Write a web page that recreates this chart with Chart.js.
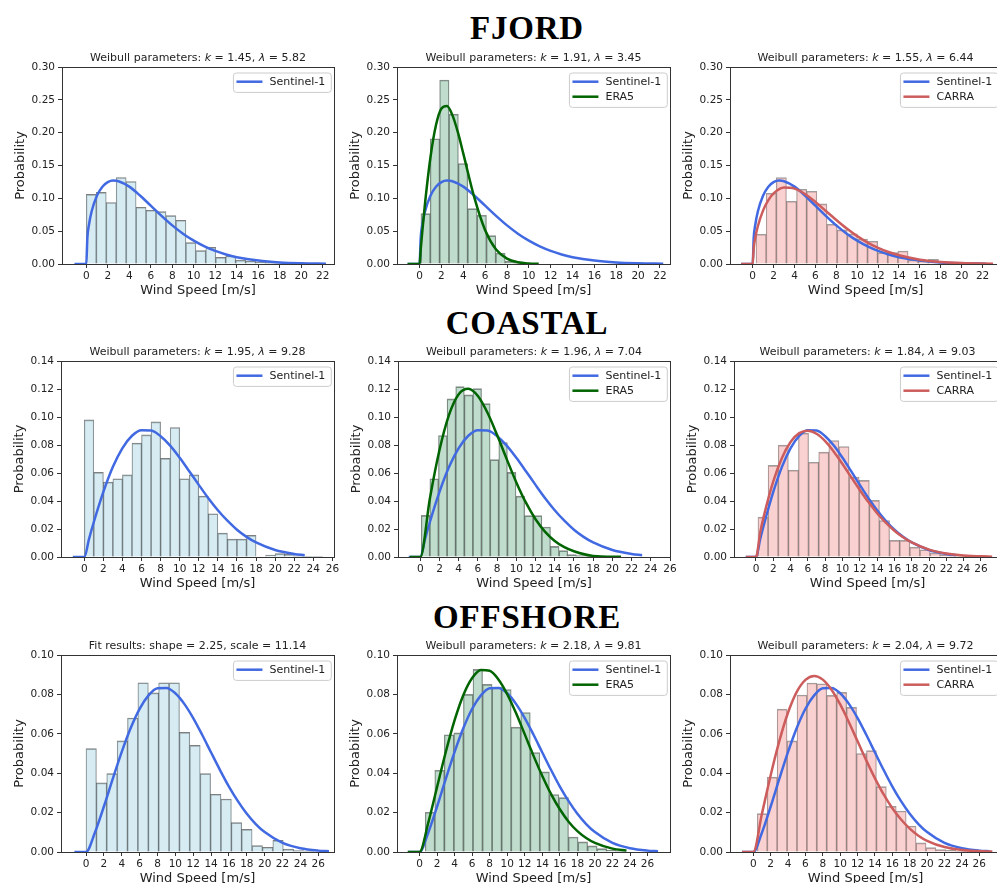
<!DOCTYPE html>
<html>
<head>
<meta charset="utf-8">
<script src="https://cdn.jsdelivr.net/npm/chart.js@4.4.0/dist/chart.umd.min.js"></script>
<style>
  html, body { margin: 0; padding: 0; background: #fff; overflow: hidden; }
  body { width: 997px; height: 883px; position: relative; }
  .region {
    position: absolute; left: 0; width: 1054px; text-align: center;
    font-family: "Liberation Serif", serif; font-weight: bold; font-size: 33px;
    letter-spacing: 0.8px; line-height: 32px; color: #000;
  }
  canvas { position: absolute; }
</style>
</head>
<body>
<div class="region" style="top:12px">FJORD</div>
<div class="region" style="top:307px">COASTAL</div>
<div class="region" style="top:601px">OFFSHORE</div>

<script>
// ----------------- Tick labels -----------------
const yTicksFjord = [0.00, 0.05, 0.10, 0.15, 0.20, 0.25, 0.30];
const yTicksCoastal = [0.00, 0.02, 0.04, 0.06, 0.08, 0.10, 0.12, 0.14];
const yTicksOffshore = [0.00, 0.02, 0.04, 0.06, 0.08, 0.10];
const xTicksFjord = [0, 2, 4, 6, 8, 10, 12, 14, 16, 18, 20, 22];
const xTicksLong = [0, 2, 4, 6, 8, 10, 12, 14, 16, 18, 20, 22, 24, 26];

// ----------------- Histograms (first bin edge, bin width) + densities -----------------
const fjordS1Bins = [0, 0.927];
const fjordS1Hist = [0.106, 0.109, 0.0936, 0.1317, 0.1256, 0.0864, 0.0819, 0.0798, 0.0737, 0.0666, 0.0325, 0.0203,
  0.0254, 0.0102, 0.0122, 0.006, 0.0046, 0.003, 0.002, 0.0015, 0.001, 0.0008, 0.0005, 0.0005];
const fjordEra5Bins = [0.12, 0.857];
const fjordEra5Hist = [0.0768, 0.1907, 0.2802, 0.2283, 0.1531, 0.0844, 0.0742, 0.0432, 0.0168, 0.004, 0.0015, 0.0005];
const fjordCarraBins = [0.32, 0.97];
const fjordCarraHist = [0.0453, 0.1078, 0.1317, 0.0956, 0.1139, 0.1108, 0.0915, 0.0605, 0.0519, 0.0458, 0.0381, 0.0346,
  0.0173, 0.0173, 0.0198, 0.0061, 0.0046, 0.0071, 0.002, 0.0012, 0.0008, 0.0005, 0.0004];

const coastalS1Bins = [0, 1.0];
const coastalS1Hist = [0.0979, 0.0604, 0.0535, 0.0559, 0.0587, 0.0813, 0.0872, 0.0965, 0.0704, 0.0925, 0.0559, 0.0587,
  0.0435, 0.0309, 0.0171, 0.0128, 0.0128, 0.0155, 0, 0.0014, 0.0024, 0.0019, 0.0008, 0.0005, 0.0004];
const coastalEra5Bins = [0.1, 0.897];
const coastalEra5Hist = [0.0297, 0.0559, 0.0868, 0.1129, 0.1217, 0.1158, 0.1203, 0.1096, 0.0696, 0.0818, 0.0604, 0.0435,
  0.0295, 0.0295, 0.0214, 0.0076, 0.0045, 0.0017, 0.001, 0.0006, 0.0004];
const coastalCarraBins = [0.23, 1.17];
const coastalCarraHist = [0.0285, 0.0654, 0.0799, 0.062, 0.0884, 0.0677, 0.0749, 0.0832, 0.0789, 0.057, 0.0547, 0.0404,
  0.0261, 0.0119, 0.0119, 0.0071, 0.0052, 0.0029, 0.0017, 0.001, 0.0006, 0.0004];

const offshoreS1Bins = [0, 1.162];
const offshoreS1Hist = [0.0525, 0.0351, 0.0398, 0.0564, 0.068, 0.0859, 0.0808, 0.0859, 0.0859, 0.0607, 0.0541, 0.0398,
  0.0293, 0.0269, 0.0149, 0.0115, 0.0032, 0.0024, 0.0059, 0.0015, 0.0007, 0.0004];
const offshoreEra5Bins = [0.65, 1.089];
const offshoreEra5Hist = [0.0202, 0.0415, 0.0595, 0.0605, 0.08, 0.0927, 0.0851, 0.0837, 0.0825, 0.0634, 0.0708, 0.0505,
  0.0407, 0.0292, 0.0276, 0.0076, 0.0051, 0.0031, 0.0017, 0.001, 0.0005];
const offshoreCarraBins = [0.46, 1.142];
const offshoreCarraHist = [0.0195, 0.038, 0.0725, 0.0564, 0.0797, 0.0858, 0.0854, 0.0795, 0.081, 0.0734, 0.05, 0.0515,
  0.0332, 0.0232, 0.0208, 0.0132, 0.0046, 0.0022, 0.0012, 0.0008, 0.0004];

// ----------------- Fitted Weibull curves (sampled off the figure) -----------------
const fjordS1CurveX = [-1.1, 0, 0.1, 0.25, 0.5, 1, 1.5, 2, 2.5, 3, 4, 5, 6, 7, 8, 9, 10, 11, 12, 13, 14, 16, 18, 20, 22.3];
const fjordS1CurveY = [0, 0, 0.0399, 0.0598, 0.0803, 0.1043, 0.1177, 0.1246, 0.127, 0.1261, 0.1178, 0.1043, 0.0888, 0.0733,
  0.0588, 0.0462, 0.0355, 0.0268, 0.0199, 0.0145, 0.0104, 0.0052, 0.0024, 0.0011, 0.0004];
const fjordEra5CurveX = [-1.1, 0, 0.1, 0.25, 0.5, 1, 1.5, 2, 2.5, 3, 3.5, 4, 5, 6, 7, 8, 9, 10, 10.9];
const fjordEra5CurveY = [0, 0, 0.0221, 0.0505, 0.0931, 0.1633, 0.2116, 0.2368, 0.2405, 0.2267, 0.2007, 0.1681, 0.1018,
  0.0515, 0.0221, 0.0081, 0.0026, 0.0007, 0.0002];
const fjordCarraCurveX = [-1.1, 0, 0.1, 0.25, 0.5, 1, 1.5, 2, 3, 4, 5, 6, 7, 8, 9, 10, 11, 12, 13, 14, 16, 18, 20, 23];
const fjordCarraCurveY = [0, 0, 0.0243, 0.0401, 0.0579, 0.0817, 0.0973, 0.1075, 0.1164, 0.1148, 0.1066, 0.0945, 0.0808,
  0.0669, 0.0539, 0.0424, 0.0326, 0.0246, 0.0182, 0.0132, 0.0066, 0.0031, 0.0014, 0.0004];

const coastalS1CurveX = [-1.2, 0, 0.5, 1, 2, 3, 4, 5, 6, 7, 8, 9, 10, 11, 12, 13, 14, 15, 16, 17, 18, 20, 22, 23.1];
const coastalS1CurveY = [0, 0, 0.013, 0.025, 0.0465, 0.0644, 0.0778, 0.0866, 0.0906, 0.0903, 0.0863, 0.0796, 0.0709,
  0.0613, 0.0515, 0.042, 0.0334, 0.0259, 0.0195, 0.0144, 0.0104, 0.005, 0.0022, 0.0013];
const coastalEra5CurveX = [-1.1, 0, 1, 2, 3, 4, 5, 6, 7, 8, 9, 10, 11, 12, 13, 14, 15, 16, 18, 20.9];
const coastalEra5CurveY = [0, 0, 0.0418, 0.0764, 0.1017, 0.1163, 0.1202, 0.115, 0.103, 0.0871, 0.0699, 0.0533, 0.0388,
  0.027, 0.018, 0.0115, 0.007, 0.0041, 0.0008, 0.0001];
const coastalCarraCurveX = [-1.15, 0, 0.5, 1, 2, 3, 4, 5, 6, 7, 8, 9, 10, 11, 12, 13, 14, 15, 16, 17, 18, 20, 22, 24, 27.3];
const coastalCarraCurveY = [0, 0, 0.0179, 0.0315, 0.054, 0.0708, 0.0822, 0.0885, 0.0902, 0.088, 0.0827, 0.0752, 0.0664,
  0.0571, 0.0479, 0.0392, 0.0313, 0.0245, 0.0188, 0.0141, 0.0104, 0.0053, 0.0025, 0.0011, 0.0002];

const offshoreS1CurveX = [-1.3, 0, 1, 2, 3, 4, 5, 6, 7, 8, 9, 10, 11, 12, 13, 14, 15, 16, 17, 18, 19, 20, 22, 24, 26, 27.2];
const offshoreS1CurveY = [0, 0, 0.0099, 0.0231, 0.0372, 0.0508, 0.0629, 0.0727, 0.0795, 0.0831, 0.0833, 0.0806, 0.0752,
  0.068, 0.0595, 0.0505, 0.0416, 0.0332, 0.0258, 0.0194, 0.0142, 0.0101, 0.0046, 0.0019, 0.0007, 0.0004];
const offshoreEra5CurveX = [-1.35, 0, 1, 2, 3, 4, 5, 6, 7, 8, 9, 10, 11, 12, 13, 14, 15, 16, 17, 18, 19, 20, 22, 23.6];
const offshoreEra5CurveY = [0, 0, 0.0149, 0.033, 0.0509, 0.0669, 0.0797, 0.0883, 0.0924, 0.092, 0.0876, 0.0801, 0.0705,
  0.0597, 0.0488, 0.0386, 0.0294, 0.0217, 0.0154, 0.0106, 0.0071, 0.0046, 0.0017, 0.0007];
const offshoreCarraCurveX = [-1.3, 0, 1, 2, 3, 4, 5, 6, 7, 8, 9, 10, 11, 12, 13, 14, 15, 16, 17, 18, 19, 20, 22, 24, 27.5];
const offshoreCarraCurveY = [0, 0, 0.0195, 0.039, 0.0564, 0.0708, 0.0813, 0.0874, 0.0894, 0.0875, 0.0824, 0.0749, 0.0659,
  0.0562, 0.0465, 0.0374, 0.0292, 0.0222, 0.0165, 0.0119, 0.0083, 0.0057, 0.0025, 0.001, 0.0002];

// ----------------- Styles -----------------
const FONT = '"DejaVu Sans", sans-serif';
const SOURCES = {
  s1:    { label: 'Sentinel-1', bar: 'rgba(173,216,230,0.5)', edge: 'rgba(0,0,0,0.5)',  line: '#4169e1' },
  era5:  { label: 'ERA5',       bar: 'rgba(46,139,87,0.3)',   edge: 'rgba(0,0,0,0.45)', line: '#006400' },
  carra: { label: 'CARRA',      bar: 'rgba(240,128,128,0.36)', edge: 'rgba(0,0,0,0.38)', line: '#cd5c5c' }
};

function weibullTitle(k, lam) {
  return [['Weibull parameters: '], ['k', true], [' = ' + k + ', '], ['λ', true], [' = ' + lam]];
}

// box = plot area [left, top, right, bottom] in page pixels
const panels = [
  { box: [62, 67, 334, 264], xr: [-2.26, 23.05], xt: xTicksFjord, yt: yTicksFjord, title: weibullTitle('1.45', '5.82'),
    hist: ['s1', fjordS1Bins, fjordS1Hist], curves: [['s1', fjordS1CurveX, fjordS1CurveY]] },
  { box: [397, 67, 670, 264], xr: [-2.07, 22.92], xt: xTicksFjord, yt: yTicksFjord, title: weibullTitle('1.91', '3.45'),
    hist: ['era5', fjordEra5Bins, fjordEra5Hist], curves: [['s1', fjordS1CurveX, fjordS1CurveY], ['era5', fjordEra5CurveX, fjordEra5CurveY]] },
  { box: [730, 67, 1001, 264], xr: [-2.17, 23.76], xt: xTicksFjord, yt: yTicksFjord, title: weibullTitle('1.55', '6.44'),
    hist: ['carra', fjordCarraBins, fjordCarraHist], curves: [['s1', fjordS1CurveX, fjordS1CurveY], ['carra', fjordCarraCurveX, fjordCarraCurveY]] },

  { box: [61, 361, 334, 557], xr: [-2.44, 26.17], xt: xTicksLong, yt: yTicksCoastal, title: weibullTitle('1.95', '9.28'),
    hist: ['s1', coastalS1Bins, coastalS1Hist], curves: [['s1', coastalS1CurveX, coastalS1CurveY]] },
  { box: [398, 361, 670, 557], xr: [-2.32, 26.0], xt: xTicksLong, yt: yTicksCoastal, title: weibullTitle('1.96', '7.04'),
    hist: ['era5', coastalEra5Bins, coastalEra5Hist], curves: [['s1', coastalS1CurveX, coastalS1CurveY], ['era5', coastalEra5CurveX, coastalEra5CurveY]] },
  { box: [734, 361, 1001, 557], xr: [-2.54, 28.32], xt: xTicksLong, yt: yTicksCoastal, title: weibullTitle('1.84', '9.03'),
    hist: ['carra', coastalCarraBins, coastalCarraHist], curves: [['s1', coastalS1CurveX, coastalS1CurveY], ['carra', coastalCarraCurveX, coastalCarraCurveY]] },

  { box: [61, 655, 334, 852], xr: [-2.8, 27.76], xt: xTicksLong, yt: yTicksOffshore, title: [['Fit results: shape = 2.25, scale = 11.14']],
    hist: ['s1', offshoreS1Bins, offshoreS1Hist], curves: [['s1', offshoreS1CurveX, offshoreS1CurveY]] },
  { box: [397, 655, 670, 852], xr: [-2.57, 28.56], xt: xTicksLong, yt: yTicksOffshore, title: weibullTitle('2.18', '9.81'),
    hist: ['era5', offshoreEra5Bins, offshoreEra5Hist], curves: [['s1', offshoreS1CurveX, offshoreS1CurveY], ['era5', offshoreEra5CurveX, offshoreEra5CurveY]] },
  { box: [730, 655, 1001, 852], xr: [-2.68, 28.5], xt: xTicksLong, yt: yTicksOffshore, title: weibullTitle('2.04', '9.72'),
    hist: ['carra', offshoreCarraBins, offshoreCarraHist], curves: [['s1', offshoreS1CurveX, offshoreS1CurveY], ['carra', offshoreCarraCurveX, offshoreCarraCurveY]] }
];

// ----------------- Plugin: full frame, subplot title, framed legend -----------------
const panelDecor = {
  id: 'panelDecor',
  afterDraw(chart, args, opts) {
    const { ctx, chartArea: a } = chart;
    ctx.save();

    // matplotlib-style box around the axes
    ctx.strokeStyle = '#333';
    ctx.lineWidth = 1;
    ctx.strokeRect(a.left + 0.5, a.top + 0.5, a.right - a.left, a.bottom - a.top);

    // title, with italic symbols
    ctx.fillStyle = '#222';
    ctx.textBaseline = 'alphabetic';
    ctx.textAlign = 'left';
    const segFont = s => (s[1] ? 'italic ' : '') + '11px ' + FONT;
    let total = 0;
    opts.title.forEach(s => { ctx.font = segFont(s); total += ctx.measureText(s[0]).width; });
    let tx = (a.left + a.right) / 2 - total / 2;
    opts.title.forEach(s => {
      ctx.font = segFont(s);
      ctx.fillText(s[0], tx, a.top - 6);
      tx += ctx.measureText(s[0]).width;
    });

    // legend inside the upper right corner
    const items = chart.data.datasets.filter(d => d.type === 'line');
    ctx.font = '11px ' + FONT;
    const tw = Math.max(...items.map(d => ctx.measureText(d.label).width));
    const bw = 3 + 26 + 7 + tw + 6;
    const bh = 8.7 + 15 * (items.length - 1) + 10.7;
    const bx = a.right - 2.7 - bw;
    const by = a.top + 6;
    ctx.beginPath();
    ctx.roundRect(bx, by, bw, bh, 3);
    ctx.fillStyle = 'rgba(255,255,255,0.8)';
    ctx.fill();
    ctx.strokeStyle = '#cccccc';
    ctx.stroke();
    items.forEach((d, i) => {
      const ly = by + 8.7 + 15 * i;
      ctx.beginPath();
      ctx.moveTo(bx + 3, ly);
      ctx.lineTo(bx + 29, ly);
      ctx.strokeStyle = d.borderColor;
      ctx.lineWidth = 2.5;
      ctx.stroke();
      ctx.fillStyle = '#222';
      ctx.textBaseline = 'middle';
      ctx.fillText(d.label, bx + 36, ly);
    });
    ctx.restore();
  }
};

// ----------------- Build one chart per panel -----------------
function makePanel(p) {
  const [L, T, R, B] = p.box;
  const canvas = document.createElement('canvas');
  const W = R - L + 72, H = B - T + 72;
  canvas.width = W;
  canvas.height = H;
  canvas.style.left = (L - 62) + 'px';
  canvas.style.top = (T - 30) + 'px';
  canvas.style.width = W + 'px';
  canvas.style.height = H + 'px';
  document.body.appendChild(canvas);

  const [hKey, bins, hist] = p.hist;
  const hs = SOURCES[hKey];
  const datasets = [{
    type: 'bar',
    label: hs.label + ' histogram',
    data: hist.map((v, i) => ({ x: bins[0] + (i + 0.5) * bins[1], y: v })),
    backgroundColor: hs.bar,
    borderColor: hs.edge,
    // neighbouring bars share an edge, so each draws half of it
    borderWidth: { top: 1, left: 0.6, right: 0.6, bottom: 0 },
    borderSkipped: false,
    barPercentage: 1,
    categoryPercentage: 1,
    order: 10
  }];
  p.curves.forEach(([key, xs, ys], i) => {
    datasets.push({
      type: 'line',
      label: SOURCES[key].label,
      data: xs.map((x, j) => ({ x: x, y: ys[j] })),
      borderColor: SOURCES[key].line,
      borderWidth: 2.5,
      pointRadius: 0,
      fill: false,
      cubicInterpolationMode: 'monotone',
      order: 5 - i
    });
  });

  const tickFont = { family: FONT, size: 10.5 };
  new Chart(canvas.getContext('2d'), {
    type: 'bar',
    data: { datasets },
    plugins: [panelDecor],
    options: {
      responsive: false,
      animation: false,
      devicePixelRatio: 1,
      layout: { padding: { left: 0, top: 30, right: 10, bottom: 0 } },
      plugins: {
        legend: { display: false },
        tooltip: { enabled: false },
        panelDecor: { title: p.title }
      },
      scales: {
        x: {
          type: 'linear',
          min: p.xr[0],
          max: p.xr[1],
          offset: false,
          afterBuildTicks: s => { s.ticks = p.xt.map(v => ({ value: v })); },
          afterFit: s => { s.height = 42; },
          grid: { offset: false, drawOnChartArea: false, drawTicks: true, tickLength: 4, color: '#333' },
          border: { display: true, color: '#333' },
          ticks: { font: tickFont, color: '#222', padding: 2, autoSkip: false, maxRotation: 0, minRotation: 0,
                   callback: v => String(v) },
          title: { display: true, text: 'Wind Speed [m/s]', color: '#222', font: { family: FONT, size: 13 },
                   padding: { top: 0, bottom: 7.6 } }
        },
        y: {
          min: 0,
          max: p.yt[p.yt.length - 1],
          afterBuildTicks: s => { s.ticks = p.yt.map(v => ({ value: v })); },
          afterFit: s => { s.width = 62; },
          grid: { drawOnChartArea: false, drawTicks: true, tickLength: 4, color: '#333' },
          border: { display: true, color: '#333' },
          ticks: { font: tickFont, color: '#222', padding: 3, callback: v => Number(v).toFixed(2) },
          title: { display: true, text: 'Probability', color: '#222', font: { family: FONT, size: 13 },
                   padding: { top: 13.2, bottom: 0 } }
        }
      }
    }
  });
}

panels.forEach(makePanel);
</script>
</body>
</html>
